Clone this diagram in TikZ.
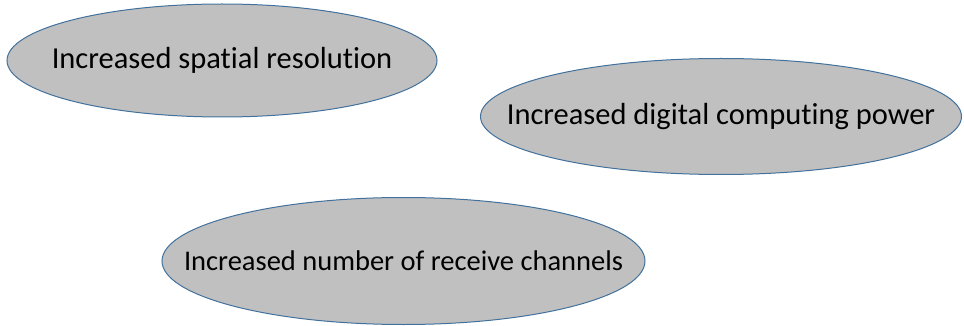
\documentclass[tikz,border=0pt]{standalone}
\usepackage{fontspec}
\setmainfont{Carlito}[Ligatures=NoCommon]
\usepackage{tikz}
\usetikzlibrary{shapes.geometric}
\usepackage{xcolor}
\definecolor{bubblegray}{RGB}{192, 192, 192}
\definecolor{bubbleedge}{RGB}{65, 113, 156}

% text that does not widen the ellipse around it
\newcommand{\bubbletext}[1]{\makebox[0pt]{#1}}

\begin{document}
\begin{tikzpicture}[x=1pt, y=-1pt,
  bubble/.style={ellipse, draw=bubbleedge, fill=bubblegray, line width=1pt,
    inner sep=0pt, font=\fontsize{30.5}{33}\selectfont}]
  \useasboundingbox (0,0) rectangle (964,326);
  % Drivers
  \node[bubble, minimum width=430pt, minimum height=113pt] (spatial) at (222,60.5)
        {\bubbletext{Increased spatial resolution}};
  \node[bubble, minimum width=481pt, minimum height=116pt] (computing) at (721,116.5)
        {\bubbletext{Increased digital computing power}};
  \node[bubble, minimum width=483pt, minimum height=127pt,
        font=\fontsize{28.5}{31}\selectfont] (channels) at (403.5,261)
        {\bubbletext{Increased number of receive channels}};
\end{tikzpicture}
\end{document}
